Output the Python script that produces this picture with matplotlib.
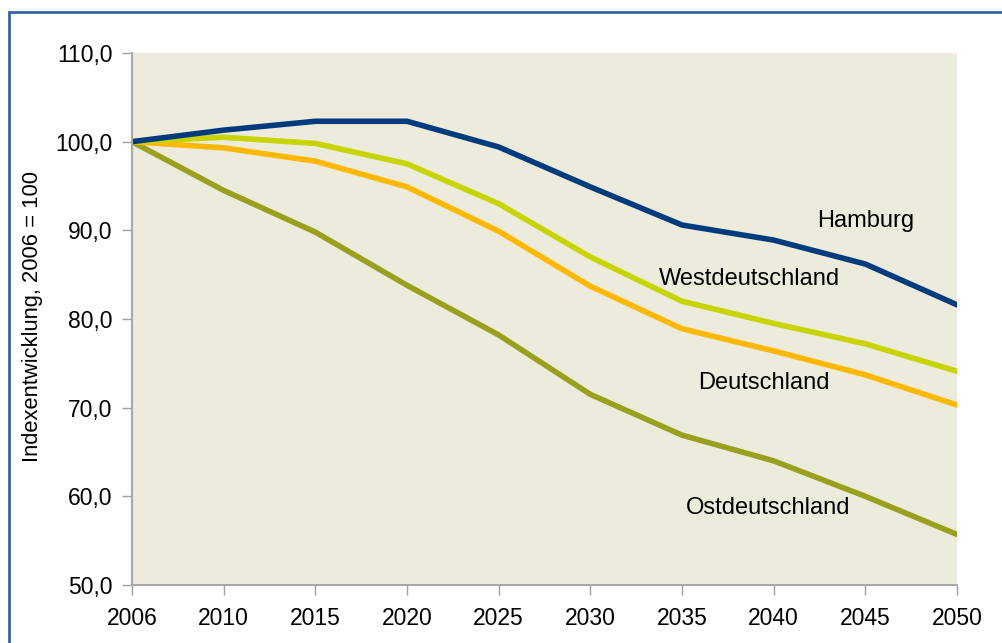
import matplotlib
matplotlib.use("Agg")
import matplotlib.pyplot as plt
from matplotlib.patches import Rectangle

plt.rcParams['font.family'] = ['Liberation Sans', 'DejaVu Sans']

years = ['2006', '2010', '2015', '2020', '2025', '2030', '2035', '2040', '2045', '2050']
hamburg = [100.0, 101.3, 102.3, 102.3, 99.4, 94.9, 90.6, 88.9, 86.2, 81.6]
west = [100.0, 100.5, 99.8, 97.5, 93.0, 87.0, 82.0, 79.5, 77.2, 74.1]
deutschland = [100.0, 99.3, 97.8, 94.9, 89.9, 83.7, 78.9, 76.4, 73.7, 70.3]
ost = [100.0, 94.5, 89.8, 83.8, 78.2, 71.5, 66.9, 64.0, 60.0, 55.7]
yticks = [50, 60, 70, 80, 90, 100, 110]

fig = plt.figure(figsize=(10.03, 6.43), dpi=100)
ax = fig.add_axes([132/1003, 1-585/643, (957-132)/1003, (585-53)/643])
ax.set_facecolor('#EDEBDB')

x = list(range(len(years)))
ax.plot(x, ost, color='#98A01E', lw=4, solid_capstyle='round')
ax.plot(x, deutschland, color='#FFB800', lw=4, solid_capstyle='round')
ax.plot(x, west, color='#C8D400', lw=4, solid_capstyle='round')
ax.plot(x, hamburg, color='#003C7D', lw=4, solid_capstyle='round')

ax.set_xlim(0, len(years)-1)
ax.set_ylim(50, 110)
ax.set_xticks(x)
ax.set_xticklabels(years, fontsize=16.5)
ax.set_yticks(yticks)
ax.set_yticklabels([f'{v},0' for v in yticks], fontsize=16.5)
ax.tick_params(axis='both', color='#A0A0A0', length=7, width=1)
ax.tick_params(axis='x', pad=9)
ax.tick_params(axis='y', pad=7)
for s in ['top', 'right']:
    ax.spines[s].set_visible(False)
for s in ['left', 'bottom']:
    ax.spines[s].set_color('#A8A8A8')
    ax.spines[s].set_linewidth(1.5)

ax.set_ylabel('Indexentwicklung, 2006 = 100', fontsize=15.8)
ax.yaxis.set_label_coords(-0.108, 0.505)

ax.text(8.0, 91.0, 'Hamburg', fontsize=17, ha='center', va='center')
ax.text(6.74, 84.5, 'Westdeutschland', fontsize=17, ha='center', va='center')
ax.text(6.89, 72.8, 'Deutschland', fontsize=17, ha='center', va='center')
ax.text(6.94, 58.7, 'Ostdeutschland', fontsize=17, ha='center', va='center')

# frame around the chart
fig.patches.append(Rectangle((9/1003, -0.1), 1.1, 1.1 - 12/643,
                             transform=fig.transFigure, fill=False,
                             edgecolor='#3466A4', lw=2))

fig.savefig('out.png', dpi=100)
